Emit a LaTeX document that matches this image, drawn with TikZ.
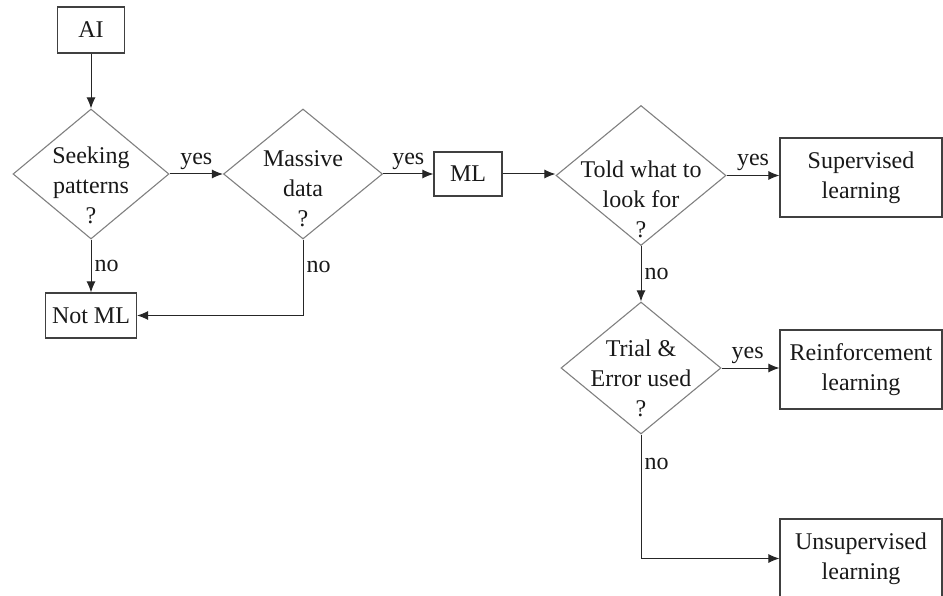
\documentclass[tikz,border=0pt]{standalone}
\usepackage{fontspec}
\setmainfont{Liberation Serif}
\usetikzlibrary{shapes.geometric,arrows.meta}
\begin{document}
\begin{tikzpicture}[x=1pt,y=-1pt,
  every node/.style={font=\fontsize{24}{30}\selectfont, text=black!90},
  box/.style={draw=black!75, line width=1.1pt, inner sep=0pt, align=center},
  decision/.style={diamond, draw=black!50, line width=1.1pt, inner sep=0pt},
  qtext/.style={align=center, inner sep=0pt},
  flow/.style={draw=black!85, line width=1pt, -{Latex[length=11pt,width=9pt]}},
  yeslbl/.style={inner sep=4pt, above},
  nolbl/.style={inner sep=3pt, right}]
\useasboundingbox (0,0) rectangle (943,596);
\clip (0,0) rectangle (943,596);

% decisions and outcomes
\node[box, minimum width=67pt, minimum height=46pt] (ai) at (91,30) {AI};
\node[decision, minimum width=156pt, minimum height=130pt] (seek) at (91,174) {};
\node[qtext] (seekq) at (91,185) {Seeking\\patterns\\?};
\node[decision, minimum width=159pt, minimum height=130pt] (mass) at (303,174) {};
\node[qtext] (massq) at (303,189) {Massive\\data\\?};
\node[box, minimum width=68pt, minimum height=44pt] (ml) at (468,174) {ML};
\node[decision, minimum width=170pt, minimum height=140pt] (told) at (641,175.5) {};
\node[qtext] (toldq) at (641,199) {Told what to\\look for\\?};
\node[box, minimum width=162pt, minimum height=79pt] (sup) at (861,177.5) {Supervised\\learning};
\node[decision, minimum width=160pt, minimum height=132pt] (trial) at (641,368) {};
\node[qtext] (trialq) at (641,378) {Trial \&\\Error used\\?};
\node[box, minimum width=162pt, minimum height=79pt] (rein) at (861,369.5) {Reinforcement\\learning};
\node[box, minimum width=162pt, minimum height=79pt] (unsup) at (861,558.5) {Unsupervised\\learning};
\node[box, minimum width=91pt, minimum height=45pt] (notml) at (91,315.5) {Not ML};

% connectors
\draw[flow] (ai) -- (seek);
\draw[flow] (seek) -- node[yeslbl] {yes} (mass);
\draw[flow] (seek) -- node[nolbl] {no} (notml);
\draw[flow] (mass) -- node[yeslbl] {yes} (ml);
\draw[flow] (mass.south) |- node[nolbl, pos=0.18] {no} (notml.east);
\draw[flow] (ml.east) -- (ml.east -| told.west);
\draw[flow] (told.east) -- node[yeslbl] {yes} (told.east -| sup.west);
\draw[flow] (told.south) -- node[nolbl] {no} (trial.north);
\draw[flow] (trial.east) -- node[yeslbl, pos=0.45] {yes} (trial.east -| rein.west);
\draw[flow] (trial.south) |- node[nolbl, pos=0.12] {no} (unsup.west);
\end{tikzpicture}
\end{document}
